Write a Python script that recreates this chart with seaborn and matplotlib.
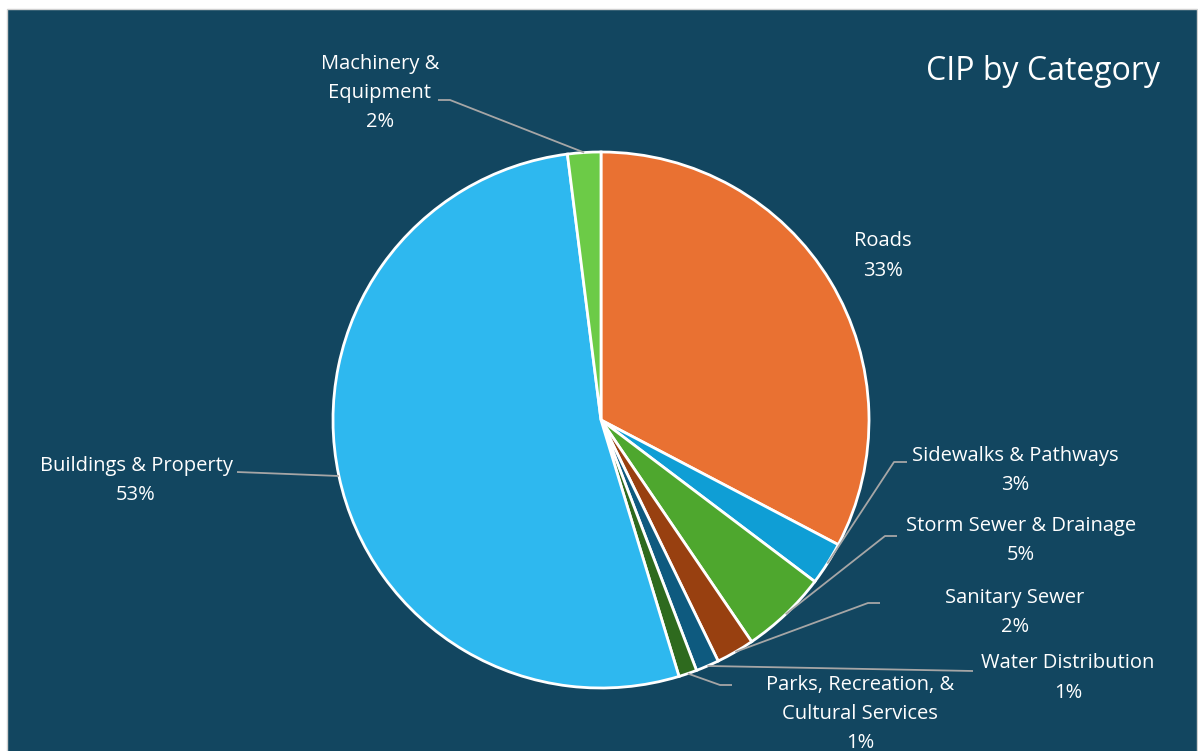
import math
import matplotlib
matplotlib.use("Agg")
import matplotlib.pyplot as plt
from matplotlib.patches import Rectangle
import seaborn as sns

# Capital improvement plan shares, clockwise from 12 o'clock
categories = [
    "Roads",
    "Sidewalks & Pathways",
    "Storm Sewer & Drainage",
    "Sanitary Sewer",
    "Water Distribution",
    "Parks, Recreation, &\nCultural Services",
    "Buildings & Property",
    "Machinery &\nEquipment",
]
shares = [32.7, 2.6, 5.2, 2.3, 1.4, 1.1, 52.7, 2.0]
slice_colors = ["#E97132", "#0F9ED5", "#4EA72E", "#984010",
                "#0E5A7F", "#2E6A1E", "#2EB8EF", "#6CCB47"]
title = "CIP by Category"

W, H = 1198, 751
BG = "#124660"
LEADER = "#A6A6A6"

sns.set_theme(style="white")
plt.rcParams["font.family"] = ["Open Sans", "DejaVu Sans"]

fig = plt.figure(figsize=(W / 100, H / 100), dpi=100, facecolor="white")
ax = fig.add_axes([0, 0, 1, 1])


def p(x, y):
    """Convert top-left based pixel layout coords to axes coords."""
    return x, H - y


# chart panel
ax.add_patch(Rectangle(p(6.5, H + 2), 1190.5, H - 6.5, facecolor=BG,
                       edgecolor="#D0D0D0", linewidth=1.0, zorder=0))

cx, cy = p(601, 420)
R = 268
wedges, _ = ax.pie(shares, colors=slice_colors, startangle=90,
                   counterclock=False, center=(cx, cy), radius=R,
                   frame=True,
                   wedgeprops=dict(edgecolor="white", linewidth=2.0))
ax.set_xlim(0, W)
ax.set_ylim(0, H)
ax.set_aspect("equal")
ax.axis("off")

# label centre and optional leader elbow for each slice
layout = [
    dict(text=(883, 256), elbow=None),
    dict(text=(1015, 471), elbow=[(907, 462), (894, 462)]),
    dict(text=(1021, 541), elbow=[(897, 536), (885, 536)]),
    dict(text=(1015, 612), elbow=[(880, 603), (868, 603)]),
    dict(text=(1068, 678), elbow=[(973, 671)]),
    dict(text=(860, 714), elbow=[(732, 685), (720, 685)]),
    dict(text=(136, 480), elbow=[(237, 472)]),
    dict(text=(380, 93), elbow=[(438, 100), (450, 100)]),
]

for w, name, val, lay in zip(wedges, categories, shares, layout):
    label = f"{name}\n{round(val)}%"
    tx, ty = p(*lay["text"])
    ax.text(tx, ty, label, ha="center", va="center", color="white",
            fontsize=14.5, linespacing=1.6, zorder=5)
    if lay["elbow"]:
        mid = math.radians((w.theta1 + w.theta2) / 2)
        ex = cx + R * math.cos(mid)
        ey = cy + R * math.sin(mid)
        pts = [p(*q) for q in lay["elbow"]] + [(ex, ey)]
        ax.plot([q[0] for q in pts], [q[1] for q in pts], color=LEADER,
                linewidth=1.3, zorder=4, solid_capstyle="butt")

ax.text(*p(1160, 71), title, ha="right", va="center", color="white",
        fontsize=23)

fig.savefig("out.png", dpi=100, facecolor=fig.get_facecolor())
